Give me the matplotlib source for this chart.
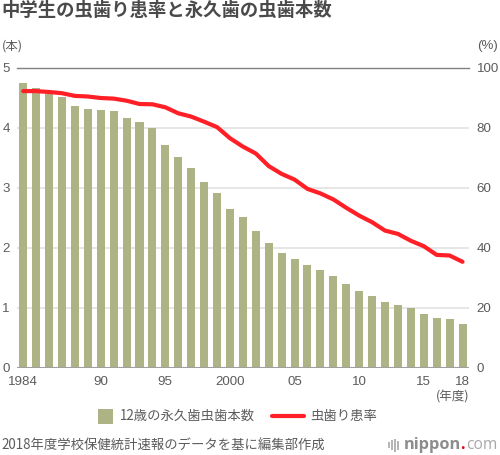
import numpy as np
import matplotlib
matplotlib.use('Agg')
import matplotlib.pyplot as plt
from matplotlib.patches import Rectangle

plt.rcParams['font.family'] = ['Noto Sans CJK JP', 'DejaVu Sans']

years = list(range(1984, 2019))
# 12歳の永久歯虫歯本数
teeth = [4.75, 4.66, 4.56, 4.52, 4.36, 4.31, 4.30, 4.29, 4.17, 4.10, 4.00, 3.72,
         3.51, 3.34, 3.10, 2.92, 2.65, 2.51, 2.28, 2.09, 1.91, 1.82, 1.71, 1.63,
         1.54, 1.40, 1.29, 1.20, 1.10, 1.05, 1.00, 0.90, 0.84, 0.82, 0.74]
# 虫歯り患率
rate = [92.3, 92.3, 92.0, 91.6, 90.7, 90.5, 90.0, 89.8, 89.1, 88.0, 87.9, 86.9,
        84.9, 83.8, 82.1, 80.3, 76.6, 73.8, 71.5, 67.3, 64.7, 62.8, 59.7, 58.2,
        56.2, 53.4, 50.8, 48.6, 45.8, 44.7, 42.4, 40.6, 37.7, 37.5, 35.4]
xtick_years = [1984, 1990, 1995, 2000, 2005, 2010, 2015, 2018]
xtick_labels = ['1984', '90', '95', '2000', '05', '10', '15', '18']

W, H = 500, 455
TEXT = '#5c5c5c'
TICK_FONT = 'Liberation Sans'
fig = plt.figure(figsize=(W / 100, H / 100), dpi=100, facecolor='white')
ax = fig.add_axes([16.75 / W, 1 - 368 / H, (469 - 16.75) / W, 300 / H])
ax2 = ax.twinx()

x = np.array(years)
ax.set_xlim(1983.5, 2018.5)
ax.set_ylim(0, 5)
ax2.set_ylim(0, 100)

for spine in list(ax.spines.values()) + list(ax2.spines.values()):
    spine.set_visible(False)

ax.set_axisbelow(True)
for v in [1, 2, 3, 4]:
    ax.axhline(v, color='#e2e2e2', lw=1.2, zorder=0)
ax.axhline(5, color='#808080', lw=1.0, zorder=0, clip_on=False)

ax.bar(x, teeth, width=0.62, color='#adb385', zorder=2)
ax.axhline(0, color='#a0a0a0', lw=1.5, zorder=3)
ax2.plot(x, rate, color='#ff1f26', lw=3.0, solid_capstyle='round',
         solid_joinstyle='round', zorder=4)

ax.set_yticks([0, 1, 2, 3, 4, 5])
ax.tick_params(axis='y', length=0, pad=5, labelsize=9.6, labelcolor=TEXT)
ax2.set_yticks([0, 20, 40, 60, 80, 100])
ax2.tick_params(axis='y', length=0, pad=5.5, labelsize=9.6, labelcolor=TEXT)
ax.set_xticks(xtick_years)
ax.set_xticklabels(xtick_labels)
ax.tick_params(axis='x', length=0, pad=5.5, labelsize=9.6, labelcolor=TEXT)
for lab in ax.get_xticklabels() + ax.get_yticklabels() + ax2.get_yticklabels():
    lab.set_family(TICK_FONT)


def px_text(px, py, s, **kw):
    fig.text(px / W, 1 - py / H, s, **kw)


px_text(1, 10, '中学生の虫歯り患率と永久歯の虫歯本数', fontsize=13.2, fontweight='bold',
        color='#4a4a4a', va='center')
px_text(2, 46, '(本)', fontsize=9, color=TEXT, va='center')
px_text(498, 46, '(%)', fontsize=9.5, color=TEXT, va='center', ha='right',
        family=TICK_FONT)
px_text(469, 397, '(年度)', fontsize=9, color=TEXT, va='center', ha='right')

# 凡例
fig.patches.append(Rectangle((98 / W, 1 - 424 / H), 15 / W, 15 / H, transform=fig.transFigure,
                             facecolor='#adb385', edgecolor='none'))
px_text(120, 416, '12歳の永久歯虫歯本数', fontsize=9.6, color=TEXT, va='center')
fig.add_artist(plt.Line2D([272 / W, 304 / W], [1 - 416 / H] * 2, color='#ff1f26', lw=3,
                          solid_capstyle='round'))
px_text(310, 416, '虫歯り患率', fontsize=9.6, color=TEXT, va='center')

px_text(1, 446, '2018年度学校保健統計速報のデータを基に編集部作成', fontsize=9.6,
        color=TEXT, va='center')

# ロゴ
for bx, bh in zip([388, 391, 394, 397], [6, 10, 13, 9]):
    fig.patches.append(Rectangle((bx / W, 1 - (445 + bh / 2) / H), 1.6 / W, bh / H,
                                 transform=fig.transFigure, facecolor='#b5b5b5',
                                 edgecolor='none'))
fig.text(404 / W, 1 - 445 / H, 'nippon', fontsize=11.8, fontweight='bold',
         color='#8c8c8c', va='center', family='Open Sans')
fig.text(460 / W, 1 - 445 / H, '.', fontsize=11.8, fontweight='bold', color='#e60012',
         va='center', family='Open Sans')
fig.text(466 / W, 1 - 445 / H, 'com', fontsize=11.2, color='#a8a8a8', va='center',
         family='Open Sans')

fig.savefig('out.png', dpi=100)
